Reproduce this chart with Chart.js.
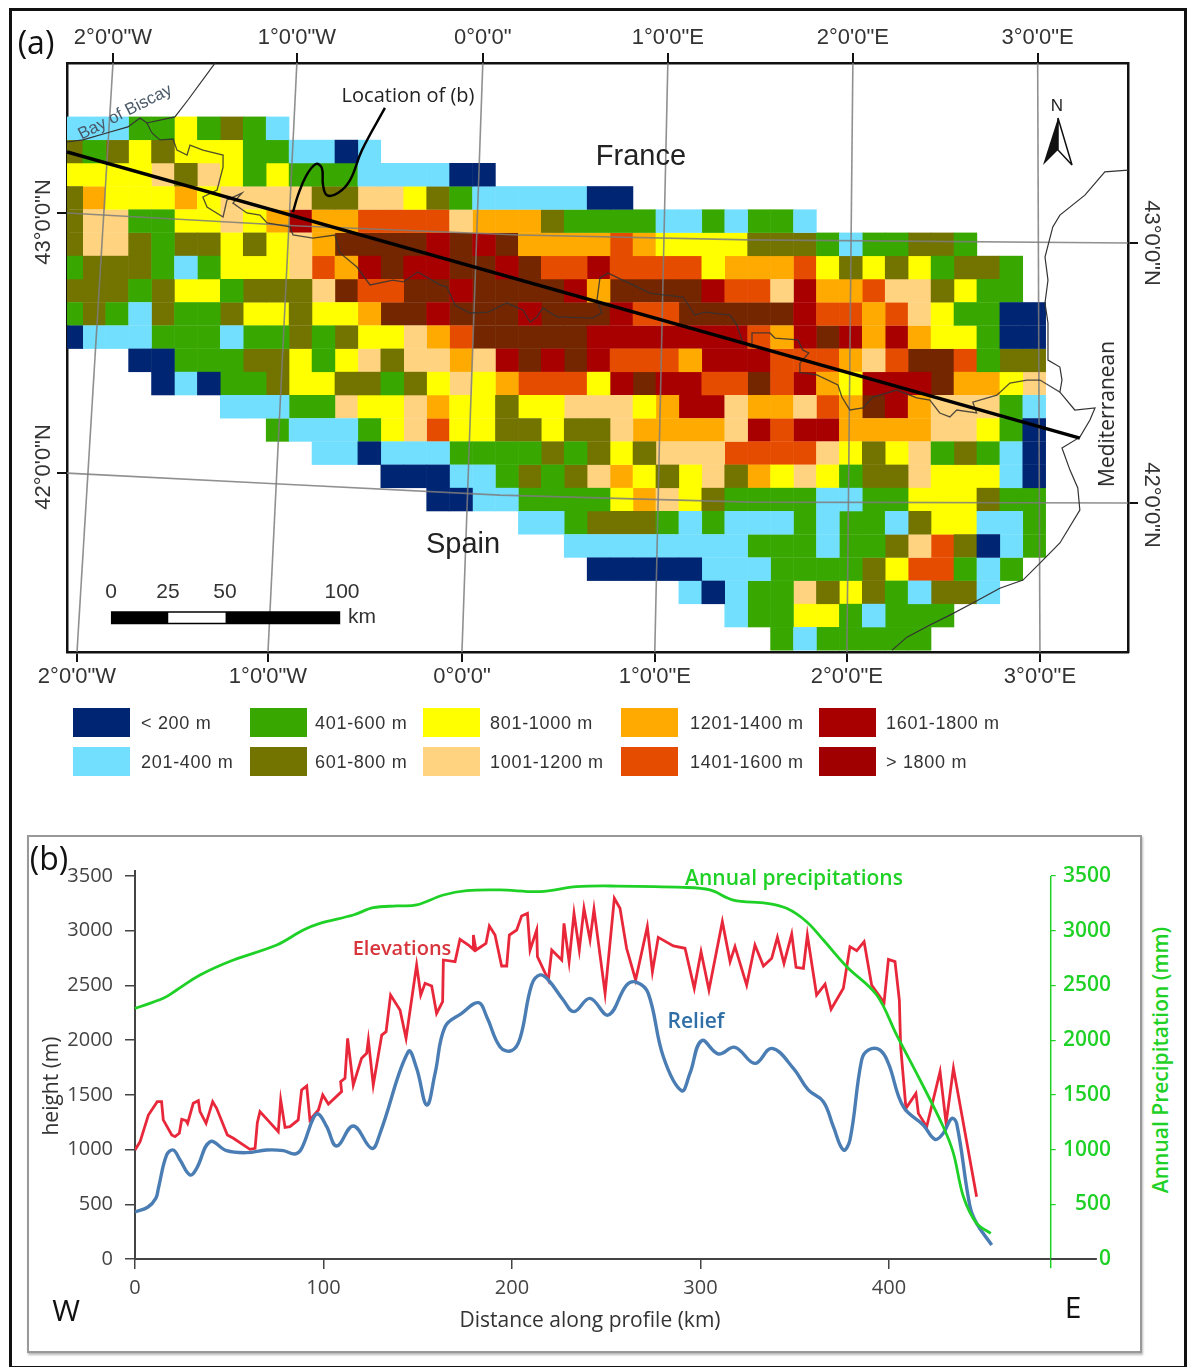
<!DOCTYPE html>
<html>
<head>
<meta charset="utf-8">
<title>Elevation map and profile</title>
<script src="https://cdn.jsdelivr.net/npm/chart.js@4/dist/chart.umd.min.js"></script>
<style>
    body { margin: 0; background: #fff; }
    #page { position: relative; width: 1189px; height: 1367px; overflow: hidden; font-family: "Liberation Sans", sans-serif; color: #333; }
    canvas { position: absolute; left: 0; }
    #frame { position: absolute; left: 9px; top: 8px; width: 1172px; height: 1355px; border: 3px solid #111; }
    #boxB { position: absolute; left: 27px; top: 835px; width: 1111px; height: 514px; border: 2px solid #999; box-shadow: 1px 2px 2px #bbb; }
    .txt { position: absolute; white-space: nowrap; transform: translate(-50%, -50%); }
    .swatch { position: absolute; width: 57px; height: 29px; }
    svg { position: absolute; left: 0; top: 0; }
</style>
</head>
<body>
<div id="page">
    <div id="frame"></div>
    <div id="boxB"></div>
    <canvas id="mapa" width="1189" height="800" style="top:0"></canvas>
    <canvas id="perfil" width="1111" height="547" style="top:820px"></canvas>
    <svg width="1189" height="200">
        <polygon points="1058,118 1043,165 1058,150" fill="#111"/>
        <polygon points="1058,118 1072,165 1058,150" fill="#fff" stroke="#111" stroke-width="1.5"/>
    </svg>
</div>
<script>
// elevation classes, one digit per 10 km cell, '.' = no data
const elevationRows = [
    "1112242321",
    "32343444221101",
    "4444535424222111100",
    "3644464555533554321111100",
    "355224454686677775666322221121221",
    "3553233434569999898966667644443332122332",
    "233321244457689889989778777746667434342332",
    "3332344233" + "3597799899" + "9986999987" + "7586675534" + "22",
    "2321322344" + "3446998999" + "8999877999" + "9987767542" + "200",
    "0111222122" + "3234456799" + "9998888888" + "7689868644" + "200",
    "...0022233" + "4245355658" + "9898777688" + "8777657997" + "233",
    "....010223" + "4433234546" + "7774898877" + "9786488896" + "645",
    ".......111" + "2254456443" + "4455546885" + "6657698655" + "521",
    ".........2" + "1112457443" + "3433566665" + "8788666655" + "420",
    ".........." + ".110111222" + "2323435557" + "7775434523" + "210",
    ".........." + "....000112" + "3235643453" + "6454233544" + "410",
    ".........." + "......0011" + "2222465432" + "2221122444" + "322",
    ".........." + ".........." + "1123332121" + "1121221344" + "112",
    ".........." + ".........." + "..11111111" + "2221223573" + "012",
    ".........." + ".........." + "...0000011" + "1222234772" + "12",
    ".........." + ".........." + ".......101" + "2253432133" + "1",
    ".........." + ".........." + ".........1" + "224421222",
    ".........." + ".........." + ".........." + ".2122222"
];
const classColors = ['#002673', '#73dfff', '#38a800', '#737300', '#ffff00', '#ffd37f', '#ffaa00', '#e64c00', '#a80000', '#732600'];
const legendColors = ['#002673', '#73dfff', '#38a800', '#737300', '#ffff00', '#ffd37f', '#ffaa00', '#e64c00', '#a80000', '#a00000'];
const legendLabels = ['< 200 m', '201-400 m', '401-600 m', '601-800 m', '801-1000 m', '1001-1200 m', '1201-1400 m', '1401-1600 m', '1601-1800 m', '> 1800 m'];

// map lines, [km east, km south]
const profileLine = [[3.14, 15.2], [444.9, 138.5]];
const calloutLine = [[101.7, 41.1], [103.9, 33.8], [107.4, 25.6], [111.7, 20.4], [114.3, 22.1], [114.8, 29.4], [116.5, 33.8], [121.3, 32.9], [126.6, 27.3], [131.8, 14.4], [141.8, -3.8]];
const biscayCoast = [[67.7, -23.1], [55.9, -7.2], [50.2, 0.1], [38, 2.7], [35, 0.6], [29.7, 4.4], [21.9, 6.6], [10.1, 10], [3.14, 10.9]];
const franceSpainBorder = [[38, 2.7], [40.2, 7], [43.7, 10], [49.4, 9.6], [51.1, 14.4], [55.5, 16.5], [56.8, 12.2], [62.4, 14.4], [71.2, 16.5], [71.2, 21.7],
    [68.6, 31.6], [62.4, 34.6], [64.2, 38.9], [71.2, 43.2], [72.9, 35.9], [79.5, 32.9], [75.5, 37.2], [81.6, 41.5], [87.3, 42.4], [90.4, 45.8],
    [100.4, 47.5], [101.7, 50.9], [110.4, 52.3], [120, 51], [122.2, 58.7], [129.6, 64.8], [135.3, 72.5], [145.3, 70.4], [149.7, 71.2], [156.2, 66.9],
    [165.8, 72.5], [168.9, 73.4], [172.4, 81.2], [178.9, 84.6], [186.8, 84.2], [195, 80.3], [202, 83.3], [205.1, 88.5], [208.1, 86.3], [210.7, 82.4],
    [216.8, 86.3], [232.5, 86.8], [236.4, 84.6], [234.3, 79], [235.6, 69.5], [239.1, 67.4], [257.4, 76], [263.1, 76.8], [271.8, 77.7], [277, 85.5],
    [281.4, 84.2], [292.3, 85.5], [295.3, 89.8], [298, 97.6], [301.9, 99.3], [301.9, 93.2], [309.7, 93.2], [311.9, 95.4], [321.9, 96.2], [324.1, 100.6],
    [326.7, 101.8], [322.8, 106.2], [322.8, 110.2], [330.2, 111.3], [339.4, 115.6], [341.1, 120.8], [344.6, 126.4], [350.3, 125.5], [354.6, 120.8], [365.1, 117.8],
    [373.8, 121.2], [379.5, 122.1], [383.8, 127.7], [388.2, 129.4], [391.2, 126.4], [399.9, 127.7], [398.2, 123], [408.7, 120], [414.4, 114.8], [421.8, 113.5],
    [427.5, 113.5], [436.2, 118.7]];
const medCoast = [[465.9, 23], [455.8, 23.8], [447.1, 33.8], [436.2, 42.4], [433.1, 47.5], [429.7, 60.5], [431, 70.4], [429.7, 80.3], [431, 88.9], [431, 104.9],
    [436.2, 107.9], [437.1, 113.5], [436.2, 118.7], [442.7, 126.4], [451.5, 125.5], [449.3, 130.7], [444.9, 138.1], [437.1, 142.8], [440.6, 152.3], [444, 160],
    [444.9, 169.5], [436.2, 183.7], [427.5, 192.4], [420.1, 199.7], [410, 203.2], [398.2, 209.6], [388.2, 214.8], [379.5, 219.1], [369.5, 224.3], [363, 229.9]];
const graticule = [
    [[23.2, -23.15], [7.5, 230.7]],
    [[103.4, -23.15], [90.8, 230.7]],
    [[184.5, -23.15], [175.4, 230.7]],
    [[265.2, -23.15], [259.5, 230.7]],
    [[345.9, -23.15], [343.3, 230.7]],
    [[426.5, -23.15], [427.5, 230.7]],
    [[3.14, 41.5], [104.5, 47.1], [200.5, 51], [300.8, 53.1], [465.9, 54.4]],
    [[3.14, 153.6], [96, 158.3], [192, 163.1], [301, 166.1], [465.9, 166.5]]
];
const scaleBar = [[22.3, 215.9], [122.3, 215.9]];
const scaleBarWhite = [[47.3, 215.9], [72.3, 215.9]];

const lonTicksTop = [23.2, 103.4, 184.5, 265.2, 345.9, 426.5];
const lonTicksBottom = [7.5, 90.8, 175.4, 259.5, 343.3, 427.5];
const lonLabels = ['2°0\'0"W', '1°0\'0"W', '0°0\'0"', '1°0\'0"E', '2°0\'0"E', '3°0\'0"E'];
const latTicksLeft = [41.5, 153.6];
const latTicksRight = [54.4, 166.5];

// profile (b)
const elevKm = [0, 2.7, 7.1, 11.8, 14.1, 15, 19.5, 21.2, 23.5, 24.8, 27.1, 27.9, 30.9, 33.6, 34.5, 37.7, 41.2, 43.3, 49, 52.2,
    61, 63.7, 64.9, 66.3, 76, 77.3, 79.6, 82.2, 86.6, 88.4, 91.1, 92.8, 97.3, 99.6, 102.6, 109.6, 109.1, 111.4, 112.8, 115.8,
    120.2, 122.9, 123.8, 126.4, 130.9, 133.2, 135.6, 140.6, 143.8, 149.4, 151.6, 153.9, 157.4, 160, 163.2, 163.6, 169.8, 172.4, 176.9, 179.5,
    179.5, 180.9, 186.2, 188, 191, 194.5, 197.2, 198.6, 202.5, 205.1, 208.2, 209.6, 213.1, 213.5, 219.3, 221.1, 226.4, 227.6, 230.3, 232.9,
    235.7, 238.2, 241.4, 243.5, 249.4, 254.3, 257.3, 260.8, 265.6, 271.8, 274.5, 277.6, 285.6, 291.8, 296.7, 300.3, 304.5, 311.6, 315.7, 318.3,
    324.5, 328.9, 333.4, 337.8, 340.8, 344.3, 348.4, 350.7, 354.6, 356.7, 361.6, 366.1, 369.3, 375.8, 379.3, 382.9, 386.8, 390.8, 397.4, 399.7,
    403.2, 405.5, 406.2, 409, 414.3, 415.6, 420, 427.1, 430.3, 434.2, 446.5];
const elevM = [996, 1072, 1316, 1438, 1438, 1271, 1133, 1118, 1149, 1277, 1264, 1240, 1423, 1447, 1347, 1240, 1438, 1377, 1133, 1103,
    1002, 1011, 1246, 1347, 1164, 1453, 1203, 1210, 1271, 1545, 1581, 1271, 1362, 1499, 1417, 1530, 1621, 1651, 2017, 1590,
    1834, 1880, 2002, 1590, 2047, 2078, 2413, 2276, 2017, 2687, 2413, 2520, 2495, 2245, 2352, 2733, 2718, 2922, 2870, 2830,
    2961, 2824, 2885, 3044, 2961, 2678, 2678, 2961, 3007, 3135, 3159, 2824, 3007, 2763, 2550, 2824, 2733, 3068, 2718, 3159,
    2824, 3205, 2916, 3196, 2428, 3297, 3205, 2840, 2550, 3038, 2626, 2940, 2861, 2840, 2474, 2809, 2459, 3083, 2718, 2855,
    2504, 2870, 2678, 2748, 2940, 2702, 2970, 2666, 2657, 2961, 2413, 2513, 2282, 2474, 2855, 2818, 2900, 2504, 2343, 2739,
    2718, 2367, 1941, 1377, 1514, 1331, 1209, 1712, 1240, 1743, 570];
const reliefKm = [0, 6.9, 11.1, 12.4, 16.8, 20.3, 23.9, 29.2, 32.7, 39.8, 48.6, 59.2, 69.8, 78.7, 84.9, 88.4, 94.6, 97.3, 101.7, 107,
    115.8, 125.6, 130, 145, 149.4, 154.8, 159.2, 164.5, 173.3, 182.2, 186.6, 193.6, 199.8, 204.3, 210.4, 214.9, 219.3, 227.2, 232.9, 241.4,
    251.1, 260.8, 266.2, 272.3, 280.3, 290, 294.4, 300.6, 309.5, 318.3, 328.9, 337.8, 349.3, 357.2, 365.2, 370.5, 375.8, 379.3, 385.5, 389.1,
    395.2, 399.7, 407.6, 418.2, 424.4, 428.8, 433.3, 435.9, 443, 446.5, 454.5];
const reliefM = [430, 475, 557, 646, 951, 996, 905, 768, 829, 1072, 990, 972, 996, 990, 960, 1011, 1286, 1325, 1210, 1033,
    1216, 1011, 1149, 1895, 1743, 1407, 1697, 2123, 2245, 2343, 2215, 1941, 1904, 2017, 2504, 2596, 2550, 2367, 2261, 2382,
    2230, 2504, 2529, 2428, 1849, 1538, 1697, 1995, 1874, 1935, 1788, 1925, 1743, 1545, 1438, 1209, 996, 1088, 1819, 1910,
    1910, 1788, 1392, 1225, 1094, 1149, 1285, 1240, 478, 326, 128];
const precipKm = [0, 15, 22.1, 34.5, 52.2, 75.2, 89.3, 98.1, 115.8, 126.4, 138.8, 149.4, 163.6, 176, 193.6, 214.9, 234.3, 255.5, 290.9, 305,
    317.4, 335.1, 345.7, 356.3, 365.2, 377.6, 393.5, 404.1, 416.5, 428.8, 434.2, 439.5, 446.5, 454];
const precipMm = [2291, 2383, 2459, 2596, 2733, 2870, 3007, 3068, 3144, 3211, 3227, 3236, 3327, 3367, 3373, 3358, 3403, 3409, 3397, 3373,
    3281, 3251, 3205, 3083, 2916, 2672, 2413, 2047, 1636, 1209, 966, 569, 326, 234];
const distanceTicks = [0, 100, 200, 300, 400];
const heightTicks = [0, 500, 1000, 1500, 2000, 2500, 3000, 3500];

const verde = '#1fd126';

const setTicks = (values) => (scale) => { scale.ticks = values.map(v => ({value: v})); };
const toPoints = (pairs) => pairs.map(p => ({x: p[0], y: p[1]}));
const zipPoints = (xs, ys) => xs.map((x, i) => ({x: x, y: ys[i]}));

const cellPoints = (code) => {
    let pontos = [];
    elevationRows.forEach((row, r) => {
        for (let k = 0; k < row.length; k++) {
            if (row[k] === String(code)) pontos.push({x: 10 * k + 5, y: 10 * r + 5});
        }
    });
    return pontos;
};

const mapLine = (pairs, color, width, order, extra) => Object.assign({
    data: toPoints(pairs),
    showLine: true,
    pointRadius: 0,
    borderColor: color,
    borderWidth: width,
    order: order,
    clip: 0
}, extra || {});

const mapDatasets = () => {
    let sets = classColors.map((c, i) => ({
        data: cellPoints(i),
        pointStyle: 'rect',
        pointRadius: 16.6,
        pointHoverRadius: 16.6,
        pointBackgroundColor: c,
        pointBorderWidth: 0,
        showLine: false,
        order: 10,
        clip: 0
    }));
    graticule.forEach(g => sets.push(mapLine(g, 'rgba(125,125,125,0.85)', 1.6, 6)));
    sets.push(mapLine(biscayCoast, '#333', 1.2, 4));
    sets.push(mapLine(franceSpainBorder, 'rgba(50,50,50,0.85)', 1.3, 4));
    sets.push(mapLine(medCoast, '#333', 1.2, 4));
    sets.push(mapLine(profileLine, '#000', 3.5, 1));
    sets.push(mapLine(calloutLine, '#000', 2.4, 1, {tension: 0.4}));
    sets.push(mapLine(scaleBar, '#000', 13, 3));
    sets.push(mapLine(scaleBarWhite, '#fff', 10, 2));
    return sets;
};

const mapAxis = (position, ticks, labels, size) => {
    let horizontal = position === 'top' || position === 'bottom';
    return {
        axis: horizontal ? 'x' : 'y',
        type: 'linear',
        position: position,
        min: horizontal ? 3.14 : -23.15,
        max: horizontal ? 465.9 : 230.7,
        reverse: !horizontal,
        z: 1,
        border: {color: '#111', width: 2.5},
        grid: {drawOnChartArea: false, color: '#111', lineWidth: 2, tickLength: 10},
        afterBuildTicks: setTicks(ticks),
        afterFit: (scale) => {
            if (horizontal) scale.height = size; else scale.width = size;
        },
        ticks: {
            display: !!labels,
            autoSkip: false,
            maxRotation: 0,
            padding: 2,
            color: '#333',
            font: {family: 'Liberation Sans', size: 22},
            callback: (value, index) => labels ? labels[index] : ''
        }
    };
};

new Chart(document.getElementById('mapa'), {
    type: 'scatter',
    data: {datasets: mapDatasets()},
    options: {
        responsive: false,
        animation: false,
        events: [],
        layout: {padding: 0},
        plugins: {legend: {display: false}, tooltip: {enabled: false}},
        scales: {
            x: mapAxis('bottom', lonTicksBottom, lonLabels, 148),
            x2: mapAxis('top', lonTicksTop, lonLabels, 63),
            y: mapAxis('left', latTicksLeft, null, 67),
            y2: mapAxis('right', latTicksRight, null, 61)
        }
    }
});

const profileXMax = 485.8;
const profileXEnd = 510.3;

new Chart(document.getElementById('perfil'), {
    type: 'scatter',
    data: {
        datasets: [
            {data: zipPoints(precipKm, precipMm), yAxisID: 'y2', showLine: true, pointRadius: 0, borderColor: verde, borderWidth: 2.8, tension: 0.35, order: 0, clip: false},
            {data: zipPoints(reliefKm, reliefM), showLine: true, pointRadius: 0, borderColor: '#4a7db3', borderWidth: 3.4, tension: 0.4, order: 1},
            {data: zipPoints(elevKm, elevM), showLine: true, pointRadius: 0, borderColor: '#e8283a', borderWidth: 2.8, tension: 0, order: 2},
            {data: [{x: profileXMax, y: 0}, {x: profileXEnd, y: 0}, {x: profileXEnd, y: -55}], showLine: true, pointRadius: 0, borderColor: '#444', borderWidth: 2, order: 3, clip: false},
            {data: [{x: profileXMax, y: 3500}, {x: profileXMax, y: -85}], showLine: true, pointRadius: 0, borderColor: verde, borderWidth: 1.5, order: 3, clip: false}
        ]
    },
    options: {
        responsive: false,
        animation: false,
        events: [],
        layout: {padding: {top: 50.6}},
        plugins: {legend: {display: false}, tooltip: {enabled: false}},
        scales: {
            x: {
                type: 'linear',
                min: 0,
                max: profileXMax,
                border: {color: '#444', width: 2},
                grid: {drawOnChartArea: false, color: '#444', lineWidth: 1.5, tickLength: 10},
                afterBuildTicks: setTicks(distanceTicks),
                afterFit: (scale) => { scale.height = 108; },
                ticks: {
                    autoSkip: false,
                    maxRotation: 0,
                    padding: 7,
                    color: '#444',
                    font: {family: 'Open Sans', size: 20},
                    callback: (value) => String(value)
                }
            },
            y: {
                type: 'linear',
                min: 0,
                max: 3550,
                border: {color: '#444', width: 2},
                grid: {drawOnChartArea: false, color: '#444', lineWidth: 1.5, tickLength: 10},
                afterBuildTicks: setTicks(heightTicks),
                afterFit: (scale) => { scale.width = 135; },
                ticks: {
                    autoSkip: false,
                    padding: 12,
                    color: '#444',
                    font: {family: 'Open Sans', size: 20},
                    callback: (value) => String(value)
                }
            },
            y2: {
                type: 'linear',
                position: 'right',
                min: 0,
                max: 3550,
                border: {display: false},
                grid: {drawOnChartArea: false, color: verde, lineWidth: 1.2, tickLength: 5},
                afterBuildTicks: setTicks(heightTicks),
                afterFit: (scale) => { scale.width = 60.3; },
                ticks: {
                    autoSkip: false,
                    crossAlign: 'far',
                    padding: 5,
                    color: verde,
                    font: {family: 'Open Sans', size: 21, weight: '600'},
                    callback: (value) => String(value)
                }
            }
        }
    }
});

// text that sits on top of the charts
const page = document.getElementById('page');
const addText = (text, x, y, style) => {
    let el = document.createElement('div');
    el.className = 'txt';
    el.textContent = text;
    el.style.left = x + 'px';
    el.style.top = y + 'px';
    Object.assign(el.style, style || {});
    page.appendChild(el);
};
const sans = {fontFamily: '"Open Sans"'};
const rot = (deg) => 'translate(-50%, -50%) rotate(' + deg + 'deg)';

addText('(a)', 36, 41, Object.assign({fontSize: '32px', color: '#111'}, sans));
addText('(b)', 49, 857, Object.assign({fontSize: '32px', color: '#111'}, sans));
addText('France', 641, 155, {fontSize: '29px', color: '#222'});
addText('Spain', 463, 543, {fontSize: '29px', color: '#222'});
addText('Location of (b)', 408, 94, Object.assign({fontSize: '20px', color: '#222'}, sans));
addText('Bay of Biscay', 125, 112, {fontSize: '17px', color: '#4a5a6a', transform: rot(-27)});
addText('Mediterranean', 1106, 414, Object.assign({fontSize: '21px', color: '#222', transform: rot(-90)}, sans));
addText('N', 1057, 106, {fontSize: '17px', color: '#222'});
addText('43°0\'0"N', 43, 222, {fontSize: '22px', transform: rot(-90)});
addText('42°0\'0"N', 43, 467, {fontSize: '22px', transform: rot(-90)});
addText('43°0\'0"N', 1152, 243, {fontSize: '22px', transform: rot(90)});
addText('42°0\'0"N', 1152, 505, {fontSize: '22px', transform: rot(90)});
addText('0', 111, 591, {fontSize: '21px'});
addText('25', 168, 591, {fontSize: '21px'});
addText('50', 225, 591, {fontSize: '21px'});
addText('100', 342, 591, {fontSize: '21px'});
addText('km', 362, 616, {fontSize: '21px'});

addText('height (m)', 50, 1086, Object.assign({fontSize: '21px', color: '#333', transform: rot(-90)}, sans));
addText('Annual Precipitation (mm)', 1160, 1060, Object.assign({fontSize: '21px', fontWeight: '600', color: verde, transform: rot(-90)}, sans));
addText('Annual precipitations', 794, 877, Object.assign({fontSize: '21px', fontWeight: '600', color: verde}, sans));
addText('Elevations', 402, 947, Object.assign({fontSize: '20px', fontWeight: '600', color: '#d8343c'}, sans));
addText('Relief', 696, 1020, Object.assign({fontSize: '21px', fontWeight: '600', color: '#2f6fa8'}, sans));
addText('W', 66, 1309, Object.assign({fontSize: '30px', color: '#111'}, sans));
addText('E', 1073, 1306, Object.assign({fontSize: '30px', color: '#111'}, sans));
addText('Distance along profile (km)', 590, 1319, Object.assign({fontSize: '21px', color: '#333'}, sans));

// legend, filled column by column
const legendX = [73, 250, 423, 621, 819];
const legendTextX = [141, 315, 490, 690, 886];
const legendY = [708, 747];
legendLabels.forEach((label, i) => {
    let col = Math.floor(i / 2), row = i % 2;
    let sw = document.createElement('div');
    sw.className = 'swatch';
    sw.style.left = legendX[col] + 'px';
    sw.style.top = legendY[row] + 'px';
    sw.style.background = legendColors[i];
    page.appendChild(sw);
    addText(label, legendTextX[col], legendY[row] + 15, {fontSize: '18px', letterSpacing: '0.7px', transform: 'translate(0, -50%)'});
});
</script>
</body>
</html>
